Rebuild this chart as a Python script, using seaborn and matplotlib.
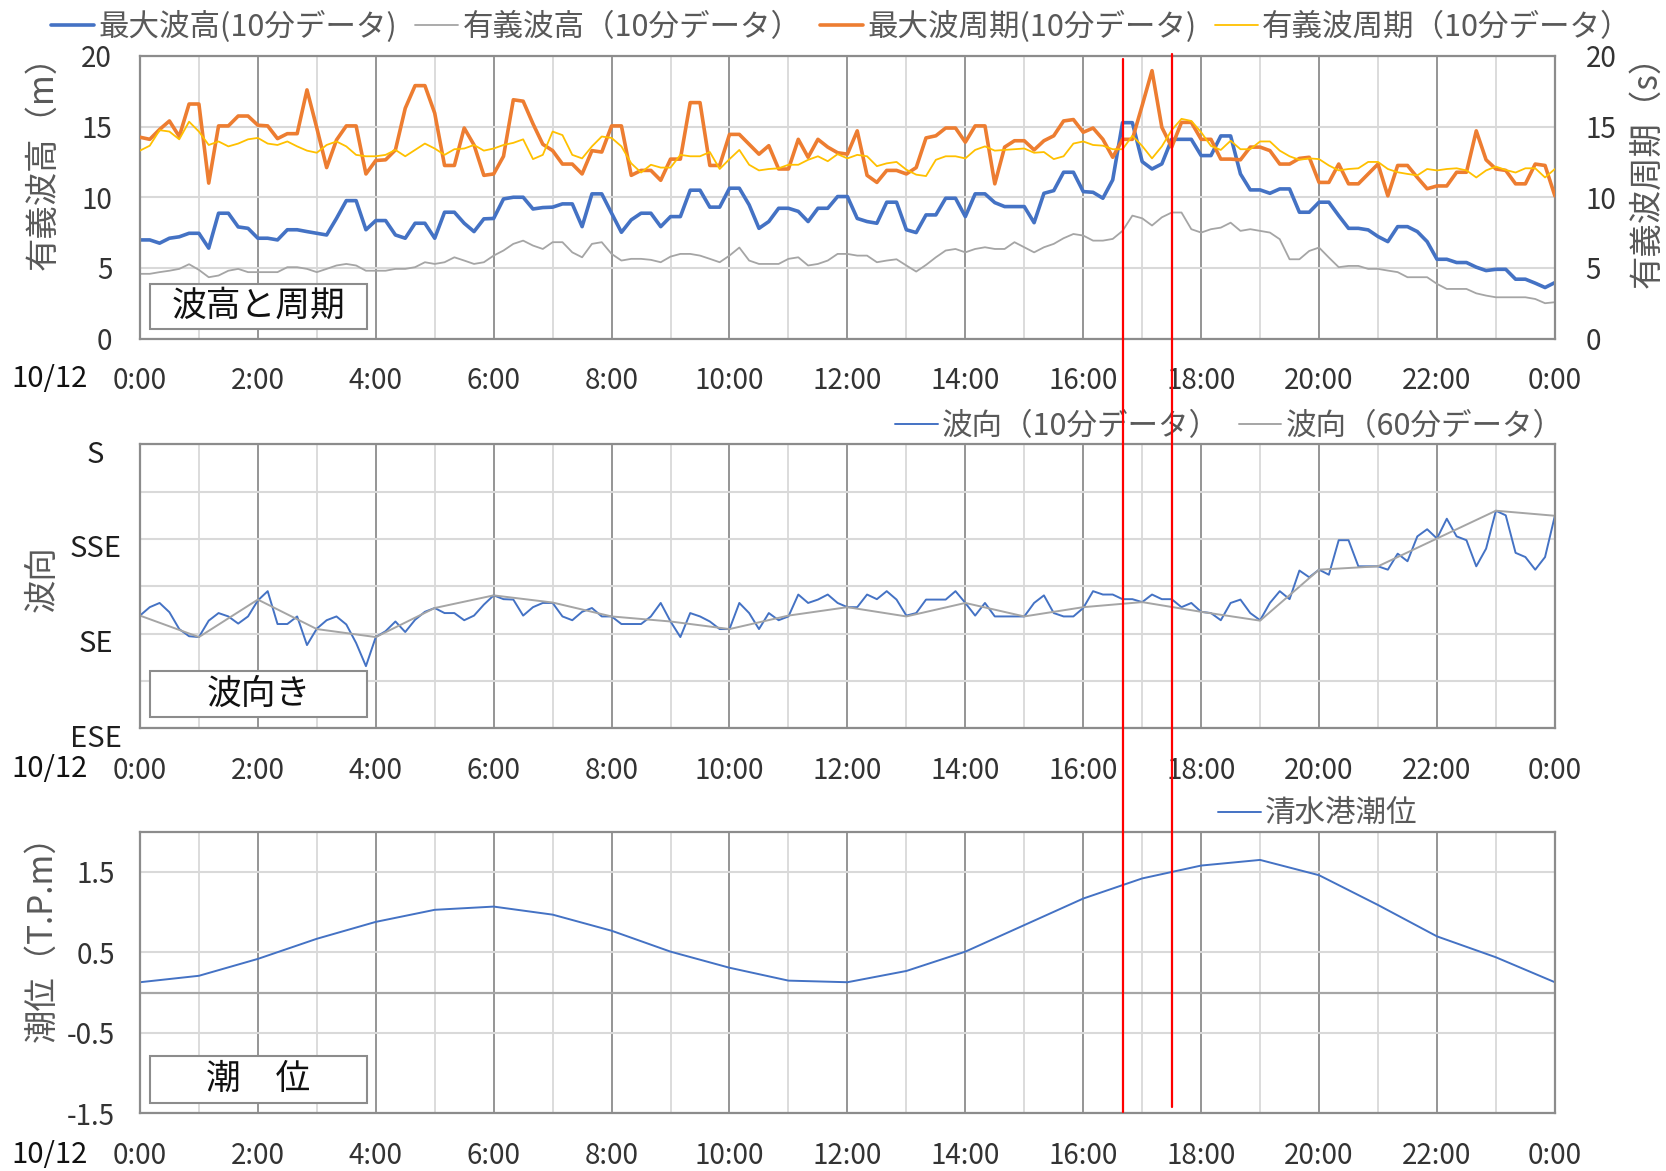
import numpy as np
import pandas as pd
import seaborn as sns
import matplotlib
matplotlib.use("Agg")
import matplotlib.pyplot as plt
from matplotlib import transforms
from matplotlib.lines import Line2D
from matplotlib.patches import Rectangle

# ---------------- data ----------------
date_label = "10/12"
hour_ticks = list(range(0, 25, 2))
hour_tick_labels = [f"{h % 24}:00" for h in hour_ticks]

max_height = [6.98,6.98,6.75,7.1,7.2,7.45,7.45,6.4,8.87,8.87,7.9,7.8,7.1,7.1,6.98,7.7,7.7,7.57,7.45,7.33,8.5,9.76,9.76,7.7,8.35,8.35,7.33,7.1,8.16,8.16,7.1,8.94,8.94,8.16,7.57,8.47,8.5,9.88,10.0,10.0,9.17,9.27,9.3,9.53,9.53,7.92,10.24,10.24,8.87,
              7.52,8.4,8.87,8.87,7.92,8.63,8.63,10.5,10.5,9.3,9.3,10.64,10.64,9.46,7.8,8.28,9.22,9.22,9.0,8.28,9.22,9.22,10.05,10.05,8.5,8.28,8.16,9.65,9.65,7.7,7.5,8.75,8.75,9.93,9.93,8.63,10.24,10.24,9.62,9.34,9.34,9.34,8.2,10.28,10.47,11.77,11.77,10.4,10.35,
              9.93,11.23,15.28,15.28,12.52,12.0,12.36,14.1,14.1,14.1,12.95,12.95,14.34,14.34,11.65,10.52,10.52,10.28,10.59,10.59,8.94,8.94,9.65,9.65,8.7,7.8,7.8,7.69,7.22,6.86,7.92,7.92,7.57,6.86,5.61,5.61,5.38,5.38,5.05,4.81,4.9,4.9,4.2,4.2,3.92,3.61,3.96]

sig_height = [4.58,4.58,4.7,4.8,4.93,5.26,4.86,4.34,4.46,4.8,4.93,4.7,4.7,4.7,4.7,5.05,5.05,4.93,4.7,4.93,5.17,5.28,5.17,4.8,4.8,4.8,4.93,4.93,5.05,5.4,5.28,5.4,5.75,5.52,5.28,5.4,5.87,6.23,6.7,6.93,6.58,6.34,6.82,6.82,6.1,5.75,6.7,6.82,5.99,
              5.52,5.64,5.64,5.57,5.4,5.8,5.99,5.99,5.87,5.64,5.4,5.87,6.44,5.52,5.28,5.28,5.28,5.64,5.75,5.17,5.28,5.52,5.99,5.99,5.87,5.87,5.4,5.52,5.61,5.17,4.74,5.21,5.75,6.23,6.34,6.1,6.34,6.46,6.34,6.34,6.82,6.46,6.1,6.46,6.7,7.1,7.4,7.29,6.93,
              6.93,7.05,7.62,8.7,8.51,8.0,8.58,8.92,8.92,7.74,7.5,7.74,7.85,8.2,7.62,7.74,7.62,7.5,7.03,5.61,5.61,6.2,6.44,5.73,5.05,5.14,5.14,4.93,4.93,4.81,4.7,4.34,4.34,4.34,3.87,3.51,3.51,3.51,3.2,3.04,2.92,2.92,2.92,2.92,2.8,2.5,2.57]

max_period = [14.25,14.1,14.8,15.4,14.3,16.6,16.6,11.0,15.05,15.05,15.75,15.75,15.1,15.05,14.15,14.5,14.5,17.6,14.9,12.1,14.05,15.05,15.05,11.65,12.6,12.65,13.35,16.3,17.9,17.9,15.95,12.25,12.25,14.9,13.7,11.55,11.65,12.9,16.9,16.8,15.2,13.75,13.3,12.35,12.35,11.65,13.3,13.2,15.05,
              15.05,11.55,11.9,11.9,11.2,12.7,12.7,16.7,16.7,12.25,12.25,14.45,14.45,13.75,13.05,13.65,12.0,12.0,14.1,12.83,14.1,13.55,13.15,13.05,14.7,11.55,11.05,11.9,11.9,11.65,12.1,14.2,14.35,14.9,14.9,13.9,15.05,15.05,10.95,13.55,14.0,14.0,13.35,14.0,14.35,15.4,15.5,14.6,14.9,
              14.1,12.83,14.1,14.1,16.5,18.96,14.95,13.55,15.3,15.3,14.1,14.1,12.7,12.7,12.65,13.55,13.55,13.3,12.35,12.35,12.75,12.83,11.05,11.05,12.35,10.95,10.95,11.65,12.35,10.1,12.25,12.25,11.4,10.6,10.8,10.8,11.77,11.77,14.7,12.65,12.0,11.9,10.95,10.95,12.35,12.25,10.1]

sig_period = [13.3,13.65,14.75,14.65,14.1,15.35,14.65,13.7,13.95,13.6,13.8,14.1,14.2,13.8,13.7,13.95,13.6,13.3,13.15,13.7,13.95,13.6,13.0,12.9,12.9,13.0,13.35,12.9,13.35,13.8,13.45,13.0,13.4,13.45,13.7,13.3,13.45,13.7,13.85,14.1,12.7,13.0,14.65,14.4,13.0,12.75,13.6,14.3,14.2,
              13.6,12.4,11.75,12.3,12.1,12.1,13.0,12.9,12.9,13.2,12.0,12.7,13.35,12.3,11.9,12.0,12.05,12.3,12.3,12.65,12.9,12.55,13.05,12.75,13.0,12.9,12.2,12.4,12.5,11.95,11.6,11.5,12.65,12.9,12.9,12.75,13.35,13.6,13.3,13.35,13.4,13.45,13.15,13.2,12.7,12.9,13.8,13.95,13.7,
              13.65,13.4,13.4,14.35,13.63,12.75,13.6,14.75,15.55,15.4,14.6,13.63,13.35,14.0,13.4,13.4,13.95,13.95,13.3,12.9,12.65,12.75,12.7,12.25,11.9,12.0,12.05,12.5,12.5,12.0,11.77,11.65,11.55,12.0,11.9,12.0,12.05,11.9,11.4,11.9,12.17,11.93,11.75,12.05,12.05,11.4,12.0]

dir_10min = [139.3,141.3,142.3,140.1,136.1,134.4,134.2,138.1,139.9,139.1,137.4,139.1,142.9,145.1,137.3,137.3,139.1,132.3,136.2,138.2,139.1,137.2,132.8,127.3,134.2,135.6,137.9,135.4,138.3,140.2,141.1,139.9,139.9,138.2,139.3,141.9,144.1,143.2,143.1,139.3,141.3,142.3,142.3,139.1,138.2,140.2,141.1,139.1,139.1,
             137.3,137.3,137.3,139.1,142.3,137.9,134.2,139.9,139.1,137.9,136.1,136.1,142.3,139.9,136.1,139.9,138.2,139.1,144.3,142.3,143.1,144.3,142.3,141.3,141.3,144.3,143.2,145.1,143.1,139.3,139.9,143.1,143.1,143.1,145.1,142.3,139.3,142.3,139.1,139.1,139.1,139.1,142.3,144.1,139.9,139.1,139.1,141.1,145.1,
             144.3,144.3,143.2,143.2,142.5,144.3,143.2,143.2,141.3,142.3,140.2,139.9,138.2,142.3,143.1,139.9,138.2,142.3,145.1,143.2,150.0,148.4,150.2,149.0,157.2,157.2,151.0,151.0,151.0,150.2,154.0,152.2,158.1,159.8,157.6,162.3,158.1,157.2,151.0,155.2,164.2,163.1,154.2,153.2,150.2,153.2,163.0]

dir_60min = [139.3,134.2,143.1,136.1,134.2,141.1,144.1,142.4,139.1,137.9,136.1,139.3,141.3,139.1,142.3,139.1,141.3,142.5,140.2,138.1,150.2,151.0,157.6,164.2,163.0]
dir_ticks = [112.5, 135.0, 157.5, 180.0]
dir_tick_labels = ["ESE", "SE", "SSE", "S"]

tide = [0.13,0.21,0.42,0.67,0.88,1.03,1.07,0.97,0.77,0.51,0.31,0.15,0.13,0.27,0.51,0.84,1.17,1.42,1.58,1.65,1.46,1.09,0.70,0.44,0.13]

event_times = [16 + 40/60, 17.5]   # red marker lines

t10 = np.arange(len(max_height)) / 6.0
t60 = np.arange(len(dir_60min), dtype=float)
df10 = pd.DataFrame({"t": t10, "hmax": max_height, "hsig": sig_height,
                     "tmax": max_period, "tsig": sig_period, "dir": dir_10min})
df60 = pd.DataFrame({"t": t60, "dir": dir_60min, "tide": tide})

# ---------------- style ----------------
sns.set_theme(style="white")
plt.rcParams["font.family"] = ["Noto Sans CJK JP", "DejaVu Sans"]

BLUE, ORANGE, GRAY, YELLOW = "#4472C4", "#ED7D31", "#A5A5A5", "#FFC000"
DARK_GRID, LIGHT_GRID = "#8c8c8c", "#d9d9d9"
TICK_C, LABEL_C = "#333333", "#595959"
TS = 20
LEG = 22
TITLE = 24

fig = plt.figure(figsize=(16.66, 11.71), dpi=100)
L, W = 0.0840, 0.8493
ax1 = fig.add_axes([L, 0.7109, W, 0.2413])
ax2 = fig.add_axes([L, 0.3779, W, 0.2428])
ax3 = fig.add_axes([L, 0.0492, W, 0.2405])


def base_style(ax):
    ax.set_xlim(0, 24)
    ax.set_xticks(hour_ticks)
    ax.set_xticklabels(hour_tick_labels)
    ax.set_xticks(range(0, 25), minor=True)
    ax.grid(which="major", axis="x", color=DARK_GRID, lw=1.3, zorder=0)
    ax.grid(which="minor", axis="x", color=LIGHT_GRID, lw=1.3, zorder=0)
    ax.set_axisbelow(True)
    for s in ax.spines.values():
        s.set_color(DARK_GRID)
        s.set_linewidth(1.6)
    ax.tick_params(axis="both", which="both", length=0, labelsize=TS, colors=TICK_C)
    ax.tick_params(axis="x", pad=20)
    ax.set_xlabel("")
    ax.set_ylabel("")


def label_box(ax, y0, y1, text):
    ax.add_patch(Rectangle((0.0071, y0), 0.1533, y1 - y0, transform=ax.transAxes,
                           facecolor="white", edgecolor=DARK_GRID, lw=1.5, zorder=6))
    ax.text(0.0071 + 0.1533 / 2, (y0 + y1) / 2, text, transform=ax.transAxes,
            ha="center", va="center", fontsize=25, color="#111111", zorder=7)


# ---- panel 1: wave height & period ----
ax1b = ax1.twinx()
sns.lineplot(data=df10, x="t", y="hmax", ax=ax1, color=BLUE, lw=2.6, label="最大波高(10分データ)")
sns.lineplot(data=df10, x="t", y="hsig", ax=ax1, color=GRAY, lw=1.3, label="有義波高（10分データ）")
sns.lineplot(data=df10, x="t", y="tmax", ax=ax1b, color=ORANGE, lw=2.6, label="最大波周期(10分データ)")
sns.lineplot(data=df10, x="t", y="tsig", ax=ax1b, color=YELLOW, lw=1.3, label="有義波周期（10分データ）")
h1, l1 = ax1.get_legend_handles_labels()
h2, l2 = ax1b.get_legend_handles_labels()
ax1.get_legend().remove()
ax1b.get_legend().remove()
base_style(ax1)
ax1.set_ylim(0, 20)
ax1.set_yticks([0, 5, 10, 15, 20])
ax1.grid(which="major", axis="y", color=LIGHT_GRID, lw=1.5)
ax1.tick_params(axis="y", pad=20)
ax1b.set_ylim(0, 20)
ax1b.set_yticks([0, 5, 10, 15, 20])
ax1b.set_ylabel("")
ax1b.tick_params(axis="y", length=0, labelsize=TS, colors=TICK_C, pad=22)
for s in ax1b.spines.values():
    s.set_visible(False)
label_box(ax1, 0.0336, 0.193, "波高と周期")
fig.legend(h1 + h2, l1 + l2, loc="center", bbox_to_anchor=(0.505, 0.977), ncol=4,
           frameon=False, fontsize=LEG, handlelength=1.4, handletextpad=0.15,
           columnspacing=0.6, labelcolor=LABEL_C)

# ---- panel 2: wave direction ----
sns.lineplot(data=df10, x="t", y="dir", ax=ax2, color=BLUE, lw=1.4, label="波向（10分データ）")
sns.lineplot(data=df60, x="t", y="dir", ax=ax2, color=GRAY, lw=1.4, label="波向（60分データ）")
h3, l3 = ax2.get_legend_handles_labels()
ax2.get_legend().remove()
base_style(ax2)
ax2.set_ylim(112.5, 180)
ax2.set_yticks(dir_ticks)
ax2.set_yticklabels(dir_tick_labels)
ax2.set_yticks([123.75, 146.25, 168.75], minor=True)
ax2.grid(which="both", axis="y", color=LIGHT_GRID, lw=1.5)
ax2.tick_params(axis="y", pad=32, colors="#1f1f1f", labelsize=21)
off = transforms.ScaledTranslation(0, -7 / 100, fig.dpi_scale_trans)
for lbl in ax2.get_yticklabels():
    lbl.set_horizontalalignment("center")
    lbl.set_transform(lbl.get_transform() + off)
label_box(ax2, 0.0405, 0.2022, "波向き")
fig.legend(h3, l3, loc="center", bbox_to_anchor=(0.738, 0.636), ncol=2,
           frameon=False, fontsize=LEG, handlelength=1.4, handletextpad=0.15,
           columnspacing=0.6, labelcolor=LABEL_C)

# ---- panel 3: tide ----
sns.lineplot(data=df60, x="t", y="tide", ax=ax3, color=BLUE, lw=1.4, label="清水港潮位")
h4, l4 = ax3.get_legend_handles_labels()
ax3.get_legend().remove()
base_style(ax3)
ax3.set_ylim(-1.5, 2.0)
ax3.set_yticks([-1.5, -0.5, 0.5, 1.5])
ax3.set_yticklabels(["-1.5", "-0.5", "0.5", "1.5"])
ax3.grid(which="major", axis="y", color=LIGHT_GRID, lw=1.5)
ax3.axhline(0, color="#a6a6a6", lw=1.6, zorder=1)
ax3.tick_params(axis="y", pad=18)
label_box(ax3, 0.038, 0.2038, "潮　位")
fig.legend(h4, l4, loc="center", bbox_to_anchor=(0.791, 0.305), ncol=1,
           frameon=False, fontsize=LEG, handlelength=1.4, handletextpad=0.15,
           labelcolor=LABEL_C)

# ---- axis titles and date labels ----
fig.text(0.0255, 0.868, "有義波高（m）", rotation=90, ha="center", va="center", fontsize=TITLE, color=LABEL_C)
fig.text(0.9886, 0.8605, "有義波周期（s）", rotation=90, ha="center", va="center", fontsize=TITLE, color=LABEL_C)
fig.text(0.0255, 0.5056, "波向", rotation=90, ha="center", va="center", fontsize=TITLE, color=LABEL_C)
fig.text(0.0255, 0.206, "潮位（T.P.m）", rotation=90, ha="center", va="center", fontsize=TITLE, color=LABEL_C)
for yy in (0.6763, 0.3433, 0.0137):
    fig.text(0.030, yy, date_label, ha="center", va="center", fontsize=21, color="#111111")

# ---- red event lines spanning all panels ----
bt = transforms.blended_transform_factory(ax1.transData, fig.transFigure)
for tt, (ya, yb) in zip(event_times, [(0.9496, 0.0504), (0.9539, 0.0547)]):
    fig.add_artist(Line2D([tt, tt], [ya, yb], transform=bt, color="#FF0000", lw=1.6, zorder=20))

fig.savefig("out.png", dpi=100)
